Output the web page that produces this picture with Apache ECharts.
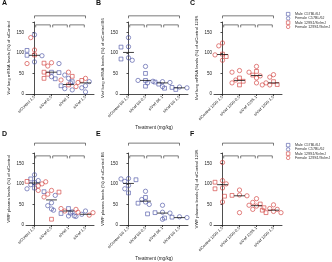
<!DOCTYPE html>
<html><head><meta charset="utf-8">
<script src="https://cdn.jsdelivr.net/npm/echarts@6/dist/echarts.min.js"></script>
<style>html,body{margin:0;padding:0;background:#fff}#c{width:332px;height:262px}</style>
</head><body><div id="c"></div>
<script>
// ---- categories / tick labels ----
const catA = ['siControl 1.5', 'siVwf 0.5', 'siVwf 1', 'siVwf 1.5'];
const catB = ['siControl B6 1.5', 'siVwf B6 0.5', 'siVwf B6 1', 'siVwf B6 1.5'];
const catC = ['siControl 129S 1.5', 'siVwf 129S 0.5', 'siVwf 129S 1', 'siVwf 129S 1.5'];
const yTicks = [0, 50, 100, 150];
const seriesNames = ['Male C57BL/6J', 'Female C57BL/6J', 'Male 129S1/SvImJ', 'Female 129S1/SvImJ'];

// ---- values: per group (4 groups) lists of values ----
// Panel A: Vwf lung mRNA (%) of siControl
const A_maleB6   = [[106, 94], [53, 52, 37], [30, 20], [27]];
const A_femaleB6 = [[144, 93, 78], [74, 42], [46, 38, 13, 10], [30, 27, 20, 15, 5]];
const A_male129  = [[95], [75, 53, 48, 38], [43, 22], [33, 26]];
const A_female129= [[137, 107, 74], [76, 68], [53, 34, 18], [38, 28]];
const A_median   = [94, 53, 23, 27];
const A_sig      = ['****', '***', '***', 'ns'];
// Panel B: of siControl B6
const B_maleB6   = [[114, 85], [50, 33, 19], [29, 24], [16, 14, 11]];
const B_femaleB6 = [[137, 115, 88, 82], [67, 33, 31], [30, 28, 27, 18], [17, 15, 13]];
const B_median   = [101, 33, 27, 15];
const B_sig      = ['**', '**', '*', '**'];
// Panel C: of siControl 129S
const C_male129  = [[97, 91], [39, 31, 22], [55, 46], [30, 23]];
const C_female129= [[124, 117, 95, 82], [57, 53, 34, 27], [67, 53, 44, 39, 27], [47, 41, 27, 22, 22]];
const C_median   = [96, 33, 45, 27];
const C_sig      = ['**', '**', 'ns', '*'];
// Panel D: VWF plasma (%) of siControl
const D_maleB6   = [[112, 103, 90], [81], [40, 28], [29, 21]];
const D_femaleB6 = [[122, 108, 98, 88], [72, 54, 47, 39], [36, 32, 22, 21], [34, 26, 22, 20]];
const D_male129  = [[106, 102], [80, 14], [], [27]];
const D_female129= [[105, 100, 95, 84], [84, 75, 68], [40, 38, 34], [31, 30, 24]];
const D_median   = [102, 61, 34, 26];
const D_sig      = ['****', '****', '**', 'ns'];
// Panel E
const E_maleB6   = [[110, 78], [67, 53], [30, 27], [19, 17, 15]];
const E_femaleB6 = [[113, 112, 106, 96, 88], [82, 62, 56, 50], [48, 31, 29, 14], [20, 18, 16]];
const E_median   = [101, 58, 29, 18];
const E_sig      = ['**', '**', '**', '**'];
// Panel F
const F_male129  = [[104, 88], [72, 70], [51, 42], [36, 30]];
const F_female129= [[152, 108, 100, 90, 56], [85, 73, 71, 30], [64, 55, 48, 46, 38], [49, 40, 38, 33, 30]];
const F_median   = [98, 71, 47, 36];
const F_sig      = ['**', 'P = 0.0687', 'ns', '*'];

// ---- presentation ----
const BLUE = '#4a52a3', RED = '#d23c38', INK = '#222';
const FONT = 'Liberation Sans';
const syms = ['rect', 'circle', 'rect', 'circle'];
const cols = [BLUE, BLUE, RED, RED];

const panels = [
  {letter:'A', left:26,  top:22,  cats:catA, yname:'{i|Vwf} lung mRNA levels (%) of siControl', sets:[A_maleB6, A_femaleB6, A_male129, A_female129], med:A_median, sig:A_sig, big:190, small:168},
  {letter:'B', left:120, top:22,  cats:catB, yname:'{i|Vwf} lung mRNA levels (%) of siControl B6', sets:[B_maleB6, B_femaleB6, null, null], med:B_median, sig:B_sig, big:190, small:168, xname:'Treatment (mg/kg)'},
  {letter:'C', left:214, top:22,  cats:catC, yname:'{i|Vwf} lung mRNA levels (%) of siControl 129S', sets:[null, null, C_male129, C_female129], med:C_median, sig:C_sig, big:190, small:168},
  {letter:'D', left:26,  top:153, cats:catA, yname:'VWF plasma levels (%) of siControl', sets:[D_maleB6, D_femaleB6, D_male129, D_female129], med:D_median, sig:D_sig, big:199, small:168},
  {letter:'E', left:120, top:153, cats:catB, yname:'VWF plasma levels (%) of siControl B6', sets:[E_maleB6, E_femaleB6, null, null], med:E_median, sig:E_sig, big:199, small:168, xname:'Treatment (mg/kg)'},
  {letter:'F', left:214, top:153, cats:catC, yname:'VWF plasma levels (%) of siControl 129S', sets:[null, null, F_male129, F_female129], med:F_median, sig:F_sig, big:199, small:168}
];
const GW = 68, GH = 72, YMAX = 175;
const pxX = GW / 4, pxY = GH / YMAX;

// beeswarm-style horizontal spreading (positions only)
function swarm(sets) {
  const out = sets.map(() => []);
  for (let g = 0; g < 4; g++) {
    const items = [];
    sets.forEach((s, si) => { if (s) s[g].forEach(v => items.push({si, v})); });
    items.sort((a, b) => b.v - a.v);
    const placed = [];
    items.forEach(it => {
      let ox = 0;
      for (const c of [0, -1, 1, -2, 2, -3, 3, -4, 4]) {
        ox = c * 0.22;
        const ok = placed.every(p => ((p.ox - ox) * pxX) ** 2 + ((p.v - it.v) * pxY) ** 2 >= 4.2 * 4.2);
        if (ok) break;
      }
      placed.push({ox, v: it.v});
      out[it.si].push([g + ox, it.v]);
    });
  }
  return out;
}

const grid = [], xAxis = [], yAxis = [], series = [], graphic = [];
panels.forEach((p, i) => {
  grid.push({left: p.left, top: p.top, width: GW, height: GH});
  xAxis.push({
    gridIndex: i, type: 'value', min: -0.5, max: 3.5,
    axisLine: {show: true, lineStyle: {color: INK, width: 0.8}},
    axisTick: {show: true, customValues: [0, 1, 2, 3], length: 2, lineStyle: {color: INK, width: 0.8}},
    axisLabel: {customValues: [0, 1, 2, 3], rotate: 45, fontSize: 4, margin: 2.5, color: INK, fontFamily: FONT,
      formatter: v => p.cats[Math.round(v)]},
    splitLine: {show: false},
    name: p.xname || '', nameLocation: 'middle', nameGap: 31,
    nameTextStyle: {fontSize: 4.6, color: INK, fontFamily: FONT}
  });
  yAxis.push({
    gridIndex: i, type: 'value', min: 0, max: YMAX, interval: 50,
    axisLine: {show: true, lineStyle: {color: INK, width: 0.8}},
    axisTick: {show: true, length: 2, lineStyle: {color: INK, width: 0.8}},
    axisLabel: {fontSize: 4.5, margin: 2, color: INK, fontFamily: FONT,
      formatter: v => yTicks.includes(v) ? String(v) : ''},
    splitLine: {show: false},
    name: p.yname, nameLocation: 'middle', nameRotate: 90, nameGap: 15,
    nameTextStyle: {fontSize: 4.3, color: INK, fontFamily: FONT,
      rich: {i: {fontStyle: 'italic', fontSize: 4.3, color: INK, fontFamily: FONT}}}
  });
  const pts = swarm(p.sets);
  p.sets.forEach((s, si) => {
    if (!s) return;
    series.push({
      type: 'scatter', name: seriesNames[si], xAxisIndex: i, yAxisIndex: i,
      symbol: syms[si], symbolSize: si % 2 === 0 ? 3.8 : 4.3,
      itemStyle: {color: 'rgba(0,0,0,0)', borderColor: cols[si], borderWidth: 0.8},
      data: pts[si], silent: true, z: 3
    });
  });
  // medians
  p.med.forEach((m, g) => {
    series.push({type: 'line', xAxisIndex: i, yAxisIndex: i, symbol: 'none', silent: true, z: 4,
      lineStyle: {color: '#111', width: 0.8}, data: [[g - 0.32, m], [g + 0.32, m]]});
  });
  // brackets
  const tk = 6;
  series.push({type: 'line', xAxisIndex: i, yAxisIndex: i, symbol: 'none', silent: true, clip: false,
    lineStyle: {color: INK, width: 0.6}, data: [[0, p.big - tk], [0, p.big], [3, p.big], [3, p.big - tk]]});
  for (let g = 0; g < 3; g++) {
    series.push({type: 'line', xAxisIndex: i, yAxisIndex: i, symbol: 'none', silent: true, clip: false,
      lineStyle: {color: INK, width: 0.6},
      data: [[g + 0.07, p.small - tk], [g + 0.07, p.small], [g + 0.93, p.small], [g + 0.93, p.small - tk]]});
  }
  const lab = [{name: p.sig[0], value: [1.5, p.big]}];
  for (let g = 0; g < 3; g++) lab.push({name: p.sig[g + 1], value: [g + 0.5, p.small]});
  series.push({type: 'scatter', xAxisIndex: i, yAxisIndex: i, symbolSize: 1, silent: true, clip: false,
    itemStyle: {opacity: 0},
    label: {show: true, position: 'top', distance: 0.4, color: INK, fontFamily: FONT,
      formatter: q => q.name, fontSize: 5.5},
    data: lab.map(d => {
      const fs = d.name.startsWith('P') ? 3.2 : (d.name === 'ns' ? 4 : 5.5);
      return {name: d.name, value: d.value, label: {fontSize: fs}};
    })
  });
  graphic.push({type: 'text', left: p.left - 24, top: p.top - 22,
    style: {text: p.letter, fill: '#111', font: 'bold 7px ' + FONT}});
});

const legendData = seriesNames.map((n, k) => ({name: n, icon: syms[k],
  itemStyle: {color: 'rgba(0,0,0,0)', borderColor: cols[k], borderWidth: 0.75}}));
const legendBase = {orient: 'vertical', left: 286, itemWidth: 3.5, itemHeight: 3.5, itemGap: 0, padding: 0,
  selectedMode: false, data: legendData,
  textStyle: {fontSize: 3.7, color: '#333', fontFamily: FONT, lineHeight: 3.7}};

const chart = echarts.init(document.getElementById('c'), null, {renderer: 'canvas'});
chart.setOption({
  animation: false,
  textStyle: {fontFamily: FONT},
  grid, xAxis, yAxis, series, graphic,
  legend: [Object.assign({top: 12}, legendBase), Object.assign({top: 143}, legendBase)]
});
</script></body></html>
